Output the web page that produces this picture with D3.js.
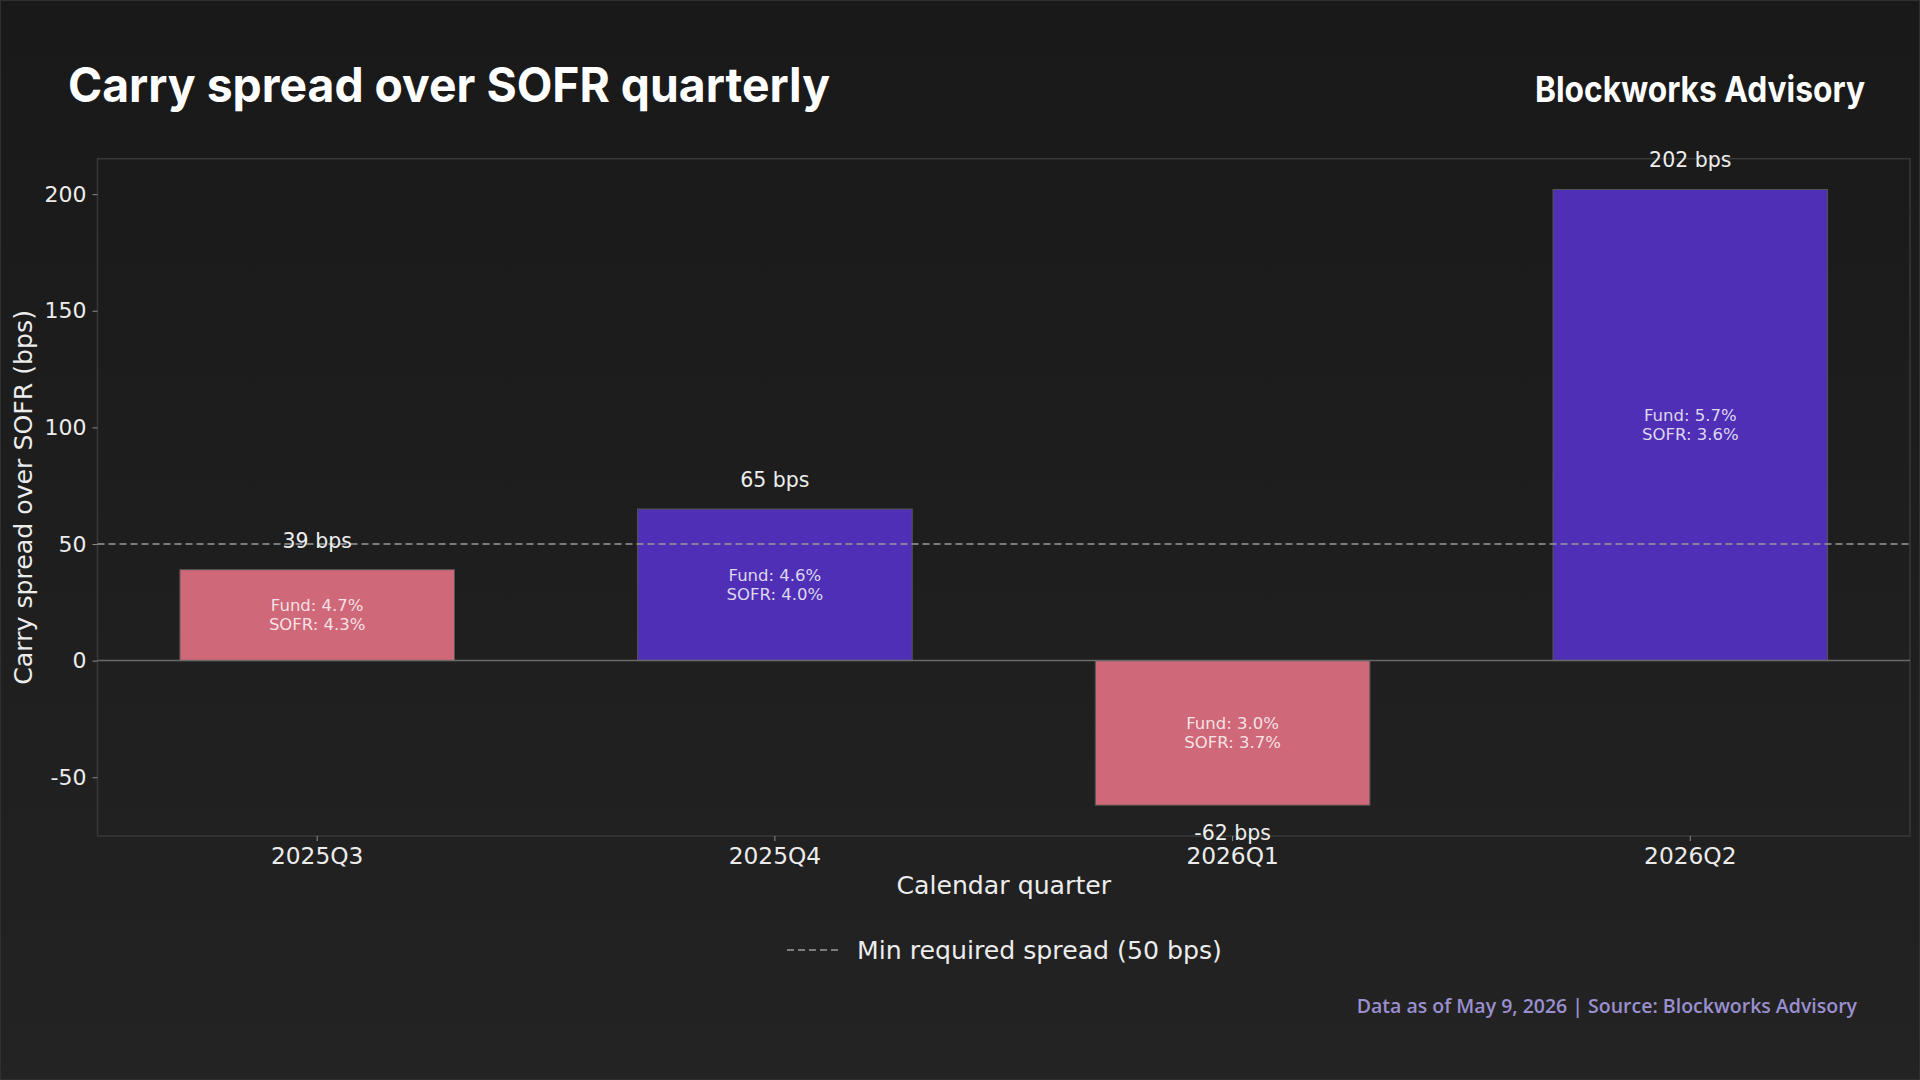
<!DOCTYPE html>
<html>
<head>
<meta charset="utf-8">
<script src="https://cdn.jsdelivr.net/npm/d3@7"></script>
<style>
  html, body { margin: 0; padding: 0; background: #1b1b1b; }
  svg { display: block; }
  .tick text { font-family: "DejaVu Sans", sans-serif; fill: #ececec; }
  .tick line { stroke: #8a8a8a; }
</style>
</head>
<body>
<div id="chart"></div>
<script>
// quarters and spread over SOFR (bps)
const quarters = ['2025Q3', '2025Q4', '2026Q1', '2026Q2'];
const spreads = [39, 65, -62, 202];
const fundYield = [4.7, 4.6, 3.0, 5.7];
const sofrRate = [4.3, 4.0, 3.7, 3.6];
const yTicks = [-50, 0, 50, 100, 150, 200];
const minSpread = 50;

const W = 1920, H = 1080;
const plot = {left: 97.5, right: 1910, top: 158.7, bottom: 836};

const svg = d3.select('#chart').append('svg')
    .attr('width', W)
    .attr('height', H);

let defs = svg.append('defs');
let grad = defs.append('linearGradient')
    .attr('id', 'bg')
    .attr('x1', 0).attr('y1', 0).attr('x2', 0).attr('y2', 1);
grad.append('stop').attr('offset', '0%').attr('stop-color', '#191919');
grad.append('stop').attr('offset', '100%').attr('stop-color', '#232323');

svg.append('rect')
    .attr('width', W)
    .attr('height', H)
    .attr('fill', 'url(#bg)');
svg.append('rect')
    .attr('x', 0.5).attr('y', 0.5)
    .attr('width', W - 1).attr('height', H - 1)
    .attr('fill', 'none')
    .attr('stroke', '#303030');

// scales (5% margins like the source)
let lo = d3.min(spreads), hi = d3.max(spreads);
let pad = (hi - lo) * 0.05;
const y = d3.scaleLinear()
    .domain([lo - pad, hi + pad])
    .range([plot.bottom, plot.top]);

const x = d3.scaleBand()
    .domain(quarters)
    .range([plot.left, plot.right])
    .paddingInner(0.4)
    .paddingOuter(0.18);

// frame
svg.append('rect')
    .attr('x', plot.left)
    .attr('y', plot.top)
    .attr('width', plot.right - plot.left)
    .attr('height', plot.bottom - plot.top)
    .attr('fill', 'none')
    .attr('stroke', '#383838')
    .attr('stroke-width', 1.5);

// axes
let yAxis = svg.append('g')
    .attr('transform', `translate(${plot.left},0)`)
    .call(d3.axisLeft(y).tickValues(yTicks).tickFormat(d => String(d)).tickSize(5).tickPadding(6));
yAxis.select('.domain').remove();
yAxis.selectAll('text').style('font-size', '22px');

let xAxis = svg.append('g')
    .attr('transform', `translate(0,${plot.bottom})`)
    .call(d3.axisBottom(x).tickSize(5).tickPadding(6));
xAxis.select('.domain').remove();
xAxis.selectAll('text').style('font-size', '23.3px');

// bars
let data = quarters.map((q, i) => ({q: q, v: spreads[i], f: fundYield[i], s: sofrRate[i]}));

svg.selectAll('.bar')
    .data(data)
    .enter()
    .append('rect')
    .attr('class', 'bar')
    .attr('x', d => x(d.q))
    .attr('width', x.bandwidth())
    .attr('y', d => y(Math.max(0, d.v)))
    .attr('height', d => Math.abs(y(d.v) - y(0)))
    .attr('fill', d => d.v >= minSpread ? '#4f2fb5' : '#cf6879')
    .attr('stroke', '#555')
    .attr('stroke-width', 1);

// zero line
svg.append('line')
    .attr('x1', plot.left).attr('x2', plot.right)
    .attr('y1', y(0)).attr('y2', y(0))
    .attr('stroke', '#6a6a6a')
    .attr('stroke-width', 1.5);

// min required spread
svg.append('line')
    .attr('x1', plot.left).attr('x2', plot.right)
    .attr('y1', y(minSpread)).attr('y2', y(minSpread))
    .attr('stroke', '#9a9a9a')
    .attr('stroke-width', 1.5)
    .attr('stroke-dasharray', '7,4');

// value labels
svg.selectAll('.val')
    .data(data)
    .enter()
    .append('text')
    .attr('class', 'val')
    .attr('x', d => x(d.q) + x.bandwidth() / 2)
    .attr('y', d => d.v >= 0 ? y(d.v) - 29 : y(d.v) + 28)
    .attr('text-anchor', 'middle')
    .attr('dominant-baseline', 'central')
    .style('font-family', 'DejaVu Sans')
    .style('font-size', '20.5px')
    .attr('fill', '#eeeeee')
    .text(d => d.v + ' bps');

// fund / sofr inside bars
let inner = svg.selectAll('.inner')
    .data(data)
    .enter()
    .append('text')
    .attr('class', 'inner')
    .attr('text-anchor', 'middle')
    .style('font-family', 'DejaVu Sans')
    .style('font-size', '16.5px')
    .attr('fill', '#ffffff')
    .attr('fill-opacity', 0.82);
inner.append('tspan')
    .attr('x', d => x(d.q) + x.bandwidth() / 2)
    .attr('y', d => (y(d.v) + y(0)) / 2 - 9.2)
    .attr('dominant-baseline', 'central')
    .text(d => 'Fund: ' + d.f.toFixed(1) + '%');
inner.append('tspan')
    .attr('x', d => x(d.q) + x.bandwidth() / 2)
    .attr('y', d => (y(d.v) + y(0)) / 2 + 9.2)
    .attr('dominant-baseline', 'central')
    .text(d => 'SOFR: ' + d.s.toFixed(1) + '%');

// axis titles
svg.append('text')
    .attr('transform', `translate(23,${(plot.top + plot.bottom) / 2}) rotate(-90)`)
    .attr('text-anchor', 'middle')
    .attr('dominant-baseline', 'central')
    .style('font-family', 'DejaVu Sans')
    .style('font-size', '25.2px')
    .attr('fill', '#ececec')
    .text('Carry spread over SOFR (bps)');

svg.append('text')
    .attr('x', (plot.left + plot.right) / 2)
    .attr('y', 885)
    .attr('text-anchor', 'middle')
    .attr('dominant-baseline', 'central')
    .style('font-family', 'DejaVu Sans')
    .style('font-size', '25.2px')
    .attr('fill', '#ececec')
    .text('Calendar quarter');

// legend
svg.append('line')
    .attr('x1', 787).attr('x2', 839)
    .attr('y1', 950).attr('y2', 950)
    .attr('stroke', '#9a9a9a')
    .attr('stroke-width', 1.5)
    .attr('stroke-dasharray', '7,4');
svg.append('text')
    .attr('x', 857)
    .attr('y', 950)
    .attr('dominant-baseline', 'central')
    .style('font-family', 'DejaVu Sans')
    .style('font-size', '25.2px')
    .attr('fill', '#ececec')
    .text('Min required spread (50 bps)');

// title, brand, footer
svg.append('text')
    .attr('x', 68)
    .attr('y', 102)
    .style('font-family', 'Inter')
    .style('font-weight', 700)
    .style('font-size', '48px')
    .attr('textLength', 762)
    .attr('lengthAdjust', 'spacingAndGlyphs')
    .attr('fill', '#ffffff')
    .text('Carry spread over SOFR quarterly');

svg.append('text')
    .attr('x', 1535)
    .attr('y', 101.5)
    .style('font-family', 'Inter')
    .style('font-weight', 700)
    .style('font-size', '36px')
    .attr('textLength', 330)
    .attr('lengthAdjust', 'spacingAndGlyphs')
    .attr('fill', '#ffffff')
    .text('Blockworks Advisory');

svg.append('text')
    .attr('x', 1857)
    .attr('y', 1013)
    .attr('text-anchor', 'end')
    .style('font-family', 'Open Sans')
    .style('font-weight', 600)
    .style('font-size', '19.5px')
    .attr('fill', '#9a8fcf')
    .text('Data as of May 9, 2026 | Source: Blockworks Advisory');
</script>
</body>
</html>
